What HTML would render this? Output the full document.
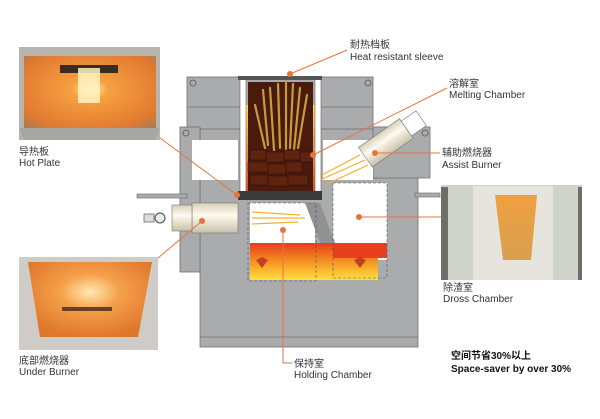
<!DOCTYPE html>
<html><head><meta charset="utf-8"><style>
body{margin:0;background:#fff;}
svg{display:block;font-family:"Liberation Sans","Noto Sans CJK SC",sans-serif;}
</style></head><body>
<svg width="600" height="419" viewBox="0 0 600 419" xmlns="http://www.w3.org/2000/svg">
<defs>
<radialGradient id="hp" cx="0.5" cy="0.45" r="0.7"><stop offset="0" stop-color="#fff6c0"/><stop offset="0.2" stop-color="#f7a040"/><stop offset="0.8" stop-color="#e07a30"/><stop offset="1" stop-color="#b07a50"/></radialGradient>
<radialGradient id="ub" cx="0.5" cy="0.4" r="0.6"><stop offset="0" stop-color="#ffe9b0"/><stop offset="0.4" stop-color="#f5a04a"/><stop offset="1" stop-color="#e0782c"/></radialGradient>
<linearGradient id="dr" x1="0" y1="0" x2="0" y2="1"><stop offset="0" stop-color="#f0a040"/><stop offset="1" stop-color="#d8a050"/></linearGradient>
<linearGradient id="hold" x1="0" y1="0" x2="0" y2="1"><stop offset="0" stop-color="#e83a1e"/><stop offset="0.45" stop-color="#f48a20"/><stop offset="1" stop-color="#ffe040"/></linearGradient>
<linearGradient id="glow" x1="0" y1="0" x2="0" y2="1"><stop offset="0" stop-color="#ffe040"/><stop offset="0.6" stop-color="#f58a20"/><stop offset="1" stop-color="#e84a1a"/></linearGradient>
<linearGradient id="cyl" x1="0" y1="0" x2="0" y2="1"><stop offset="0" stop-color="#d8d0b8"/><stop offset="0.4" stop-color="#fffaf0"/><stop offset="1" stop-color="#c8c0a8"/></linearGradient>
</defs>

<!-- Hot plate photo -->
<rect x="19" y="47" width="141" height="93" fill="#b8b4ae"/>
<rect x="24" y="56" width="132" height="74" fill="url(#hp)"/>
<rect x="60" y="65" width="58" height="8" fill="#3a2a20"/>
<rect x="78" y="68" width="22" height="35" fill="#fff3c0" opacity="0.85"/>
<polygon points="19,128 160,128 155,140 24,140" fill="#a8a6a0"/>
<!-- Under burner photo -->
<rect x="19" y="257" width="139" height="93" fill="#cfcbc6"/>
<polygon points="28,262 152,262 138,337 40,337" fill="url(#ub)"/>
<rect x="62" y="307" width="50" height="4" fill="#6a4020"/>
<!-- Dross photo -->
<rect x="441" y="185" width="141" height="95" fill="#cfd3cc"/>
<rect x="473" y="186" width="80" height="94" fill="#e6e4dc"/>
<polygon points="495,195 537,195 531,260 503,260" fill="url(#dr)"/>
<rect x="441" y="187" width="7" height="93" fill="#6a7068"/>
<rect x="578" y="187" width="4" height="93" fill="#6a7068"/>

<!-- Furnace body -->
<g stroke="#707070" stroke-width="0.8">
<rect x="200" y="127" width="218" height="220" fill="#a9abad"/>
<rect x="187" y="77" width="186" height="52" fill="#a9abad"/>
<rect x="180" y="127" width="20" height="145" fill="#a9abad"/>
<polygon points="373,127 430,127 430,178 373,178" fill="#a9abad"/>
<line x1="200" y1="337" x2="418" y2="337"/>
<line x1="187" y1="107" x2="373" y2="107"/>
</g>
<circle cx="193" cy="83" r="3" fill="none" stroke="#555" stroke-width="0.8"/>
<circle cx="368" cy="83" r="3" fill="none" stroke="#555" stroke-width="0.8"/>
<circle cx="186" cy="133" r="3" fill="none" stroke="#555" stroke-width="0.8"/>
<circle cx="425" cy="133" r="3" fill="none" stroke="#555" stroke-width="0.8"/>
<rect x="137" y="194" width="50" height="4" fill="#a9abad" stroke="#666" stroke-width="0.6"/>
<rect x="415" y="193" width="25" height="4" fill="#a9abad" stroke="#666" stroke-width="0.6"/>

<!-- white cavities -->
<rect x="192" y="140" width="46" height="40" fill="#fff"/>
<rect x="250" y="203" width="65" height="40" fill="#fff"/>
<rect x="333" y="183" width="54" height="77" fill="#fff"/>
<rect x="323" y="140" width="50" height="40" fill="#fff"/>
<polygon points="305,203 320,203 337,248 323,250" fill="#8f9193"/>

<rect x="250" y="243" width="128" height="37" fill="url(#hold)"/>
<rect x="333" y="243" width="54" height="15" fill="#e8401e"/>
<polygon points="256,260 262,257 268,260 262,268" fill="#c04020"/>
<polygon points="354,260 360,257 366,260 360,268" fill="#c04020"/>
<g fill="none" stroke="#555" stroke-width="0.6" stroke-dasharray="3,2">
<rect x="248" y="203" width="68" height="78"/>
<rect x="333" y="183" width="54" height="95"/>
</g>

<!-- melting chamber -->
<rect x="243" y="105" width="75" height="87" fill="url(#glow)"/>
<rect x="248" y="82" width="65" height="110" fill="#4a1a0c"/>
<g stroke="#c89a40" stroke-width="2.2" stroke-linecap="round">
<line x1="263" y1="90" x2="268" y2="145"/><line x1="270" y1="88" x2="274" y2="150"/>
<line x1="278" y1="84" x2="280" y2="148"/><line x1="286" y1="80" x2="286" y2="150"/>
<line x1="293" y1="84" x2="290" y2="148"/><line x1="300" y1="88" x2="294" y2="150"/>
<line x1="307" y1="95" x2="298" y2="148"/><line x1="255" y1="105" x2="265" y2="148"/>
</g>
<g fill="#5e2410" stroke="#2a0c04" stroke-width="0.5">
<rect x="250" y="150" width="16" height="10"/><rect x="266" y="152" width="18" height="10"/><rect x="284" y="150" width="16" height="10"/><rect x="300" y="152" width="12" height="10"/>
<rect x="248" y="162" width="20" height="10"/><rect x="268" y="164" width="18" height="10"/><rect x="286" y="162" width="16" height="10"/>
<rect x="250" y="175" width="18" height="10"/><rect x="268" y="176" width="20" height="10"/><rect x="288" y="175" width="20" height="10"/>
</g>
<rect x="240" y="79" width="6" height="113" fill="#fff" stroke="#666" stroke-width="0.6"/>
<rect x="315" y="79" width="6" height="113" fill="#fff" stroke="#666" stroke-width="0.6"/>
<rect x="238" y="76" width="84" height="4" fill="#555"/>
<rect x="238" y="191" width="84" height="9" fill="#3a3a3a"/>

<!-- left burner -->
<rect x="192" y="203" width="46" height="30" fill="url(#cyl)" stroke="#777" stroke-width="0.6"/>
<rect x="172" y="205" width="20" height="26" fill="url(#cyl)" stroke="#777" stroke-width="0.6"/>
<circle cx="160" cy="218" r="5" fill="#eee" stroke="#444"/>
<rect x="144" y="214" width="10" height="8" fill="#ddd" stroke="#444" stroke-width="0.6"/>
<g stroke="#f5b030" stroke-width="1.2"><line x1="252" y1="212" x2="300" y2="215"/><line x1="252" y1="218" x2="305" y2="218"/><line x1="252" y1="224" x2="298" y2="222"/></g>
<g transform="translate(390,140) rotate(-35)">
<rect x="-30" y="-12" width="50" height="24" fill="url(#cyl)" stroke="#777" stroke-width="0.6"/>
<rect x="20" y="-9" width="18" height="18" fill="#fff" stroke="#777" stroke-width="0.6"/>
</g>
<g stroke="#f5b030" stroke-width="1.2"><line x1="320" y1="180" x2="365" y2="160"/><line x1="322" y1="175" x2="360" y2="155"/><line x1="325" y1="185" x2="368" y2="165"/></g>

<g stroke="#e8743b" stroke-width="1" fill="none">
<polyline points="290,74 347,50"/>
<polyline points="313,155 447,88"/>
<polyline points="375,153 440,153"/>
<polyline points="359,217 441,217"/>
<polyline points="283,230 283,363 292,363"/>
<polyline points="237,195 160,138"/>
<polyline points="202,221 158,258"/>
</g>
<g fill="#e8743b">
<circle cx="290" cy="74" r="3"/><circle cx="313" cy="155" r="3"/><circle cx="375" cy="153" r="3"/>
<circle cx="359" cy="217" r="3"/><circle cx="283" cy="230" r="3"/><circle cx="237" cy="195" r="3"/><circle cx="202" cy="221" r="3"/>
</g>

<g font-size="10" fill="#333">
<text x="350" y="48">耐热档板</text><text x="350" y="60">Heat resistant sleeve</text>
<text x="449" y="87">溶解室</text><text x="449" y="98">Melting Chamber</text>
<text x="442" y="156">辅助燃烧器</text><text x="442" y="168">Assist Burner</text>
<text x="443" y="291">除渣室</text><text x="443" y="302">Dross Chamber</text>
<text x="19" y="155">导热板</text><text x="19" y="166">Hot Plate</text>
<text x="19" y="364">底部燃烧器</text><text x="19" y="375">Under Burner</text>
<text x="294" y="367">保持室</text><text x="294" y="378">Holding Chamber</text>
</g>
<g font-size="10" font-weight="bold" fill="#111">
<text x="451" y="359">空间节省30%以上</text>
<text x="451" y="372">Space-saver by over 30%</text>
</g>
</svg>
</body></html>
